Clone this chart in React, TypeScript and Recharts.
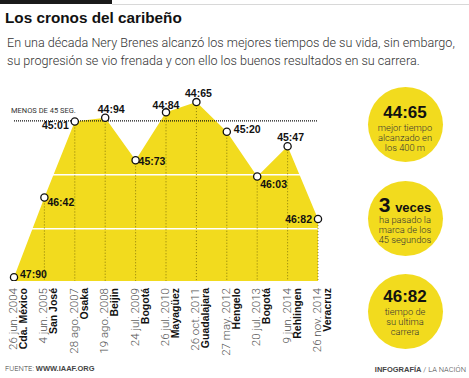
import React from 'react';
import { AreaChart, Area, Line, XAxis, YAxis, ReferenceLine, LabelList } from 'recharts';

const dates = [
    '26 jun. 2004', '4 jun. 2005', '28 ago. 2007', '19 ago. 2008', '24 jul. 2009', '26 jul. 2010',
    '26 oct. 2011', '27 may. 2012', '20 jul. 2013', '9 jun. 2014', '26 nov. 2014',
];
const cities = [
    'Cda. México', 'San José', 'Osaka', 'Beijin', 'Bogotá', 'Mayagüez',
    'Guadalajara', 'Hengelo', 'Bogotá', 'Rehlingen', 'Veracruz',
];
const times = [47.9, 46.42, 45.01, 44.94, 45.73, 44.84, 44.65, 45.2, 46.03, 45.47, 46.82];

const gridValues = [46, 47];
const markValue = 45;
const yDomain: [number, number] = [44.37, 47.97];

// where each label sits relative to its dot: [dx, dy, anchor]
const labelPlacement: [number, number, string][] = [
    [6, 1, 'start'], [3, 9, 'start'], [-6, 8, 'end'], [6, -5, 'middle'], [3, 5, 'start'],
    [0, -3, 'middle'], [2, -5, 'middle'], [7, 1, 'start'], [3, 12, 'start'], [3, -5, 'middle'],
    [-6, 4, 'end'],
];

const data = dates.map((date, i) => ({ date, city: cities[i], value: times[i] }));

const YELLOW = '#F2DB1E';
const SANS = "'Liberation Sans', Arial, sans-serif";
const fmt = (v: number) => v.toFixed(2).replace('.', ':');

const DateTick = (props: any) => {
    const { x, y, index } = props;
    return (
        <g transform={`translate(${x},${y - 1})`}>
            <text transform="rotate(-90)" textAnchor="end" y={3} fontSize={11.5} fontWeight={300} fill="#555" fontFamily="Roboto, sans-serif">
                {dates[index]}
            </text>
            <text transform="rotate(-90)" textAnchor="end" y={13} fontSize={10.5} fontWeight={700} fill="#111" fontFamily={SANS}>
                {cities[index]}
            </text>
        </g>
    );
};

const Dot = (props: any) => {
    const { cx, cy } = props;
    return <circle cx={cx} cy={cy} r={3.6} fill="#fff" stroke="#111" strokeWidth={1.3} />;
};

const PointLabel = (props: any) => {
    const { x, y, index, value } = props;
    const [dx, dy, anchor] = labelPlacement[index];
    return (
        <text x={x + dx} y={y + dy} textAnchor={anchor} fontSize={10.5} fontWeight={700} fill="#111" fontFamily={SANS}>
            {fmt(value)}
        </text>
    );
};

const Bubble = ({ cy, big, lines, top }: { cy: number; big: React.ReactNode; lines: string[]; top: number }) => (
    <div style={{ position: 'absolute', left: 405 - 37.5, top: cy - 37.5, width: 75, height: 75, borderRadius: '50%', background: YELLOW, textAlign: 'center' }}>
        <div style={{ marginTop: top, height: 20, lineHeight: '20px', fontFamily: SANS, fontWeight: 700, fontSize: 17, color: '#111', whiteSpace: 'nowrap' }}>
            {big}
        </div>
        {lines.map((l) => (
            <div key={l} style={{ height: 10, lineHeight: '10px', fontSize: 9.3, fontWeight: 300, color: '#333', fontFamily: 'Roboto, sans-serif', whiteSpace: 'nowrap' }}>{l}</div>
        ))}
    </div>
);

const App: React.FC = () => {
    return (
        <div style={{ position: 'absolute', left: 0, top: 0, width: 469, height: 378, background: '#fff', overflow: 'hidden' }}>
            <div style={{ position: 'absolute', left: 0, top: 0, width: 112, height: 4, background: '#1a1a1a' }} />
            <div style={{ position: 'absolute', left: 112, top: 4, width: 357, height: 1, background: '#d8d8d8' }} />
            <div style={{ position: 'absolute', left: 5, top: 8, lineHeight: '20px', fontSize: 15.3, fontWeight: 700, color: '#111', fontFamily: SANS }}>
                Los cronos del caribeño
            </div>
            <div style={{ position: 'absolute', left: 7, top: 34, lineHeight: '18px', fontSize: 12.6, fontWeight: 300, color: '#333', fontFamily: 'Roboto, sans-serif', whiteSpace: 'nowrap' }}>
                En una década Nery Brenes alcanzó los mejores tiempos de su vida, sin embargo,<br />
                su progresión se vio frenada y con ello los buenos resultados en su carrera.
            </div>

            <div style={{ position: 'absolute', left: 0, top: 0 }}>
                <AreaChart width={340} height={378} data={data} margin={{ top: 87, right: 22, bottom: 67, left: 14 }}>
                    <XAxis dataKey="date" axisLine={false} tickLine={false} interval={0} height={30} tick={<DateTick />} />
                    <YAxis hide type="number" domain={yDomain} reversed allowDataOverflow />
                    <Area
                        type="linear"
                        dataKey="value"
                        stroke="none"
                        fill={YELLOW}
                        fillOpacity={1}
                        baseValue={yDomain[1]}
                        dot={false}
                        activeDot={false}
                        isAnimationActive={false}
                    />
                    {gridValues.map((v) => (
                        <ReferenceLine key={v} y={v} stroke="#fff" strokeWidth={1.5} />
                    ))}
                    {data.map((d) => (
                        <ReferenceLine
                            key={d.date}
                            segment={[{ x: d.date, y: d.value }, { x: d.date, y: yDomain[1] }]}
                            stroke="#5c5200"
                            strokeDasharray="1 2"
                            strokeOpacity={0.7}
                        />
                    ))}
                    <ReferenceLine
                        y={markValue}
                        stroke="#111"
                        strokeWidth={1.2}
                        strokeDasharray="1 1"
                        label={(p: any) => (
                            <text x={p.viewBox.x - 3} y={p.viewBox.y - 8} fontSize={7.5} fill="#333" fontFamily="Roboto, sans-serif">
                                MENOS DE 45 SEG.
                            </text>
                        )}
                    />
                    <Line type="linear" dataKey="value" stroke="none" dot={<Dot />} activeDot={false} isAnimationActive={false}>
                        <LabelList dataKey="value" content={<PointLabel />} />
                    </Line>
                </AreaChart>
            </div>

            <Bubble cy={124} top={16.5} big="44:65" lines={['mejor tiempo', 'alcanzado en', 'los 400 m']} />
            <Bubble
                cy={218}
                top={14.5}
                big={<span><span style={{ fontSize: 21 }}>3</span> <span style={{ fontSize: 13 }}>veces</span></span>}
                lines={['ha pasado la', 'marca de los', '45 segundos']}
            />
            <Bubble cy={311} top={13.5} big="46:82" lines={['tiempo de', 'su ultima', 'carrera']} />

            <div style={{ position: 'absolute', left: 5, top: 364, lineHeight: '10px', fontSize: 7.5, color: '#444', fontFamily: 'Roboto, sans-serif', fontWeight: 300 }}>
                FUENTE: <b style={{ fontWeight: 700, fontFamily: SANS }}>WWW.IAAF.ORG</b>
            </div>
            <div style={{ position: 'absolute', right: 3, top: 365, lineHeight: '10px', fontSize: 7.5, color: '#444', fontFamily: 'Roboto, sans-serif', fontWeight: 300 }}>
                <b style={{ fontWeight: 700, fontFamily: SANS }}>INFOGRAFÍA</b> / LA NACIÓN
            </div>
        </div>
    );
};

export default App;
